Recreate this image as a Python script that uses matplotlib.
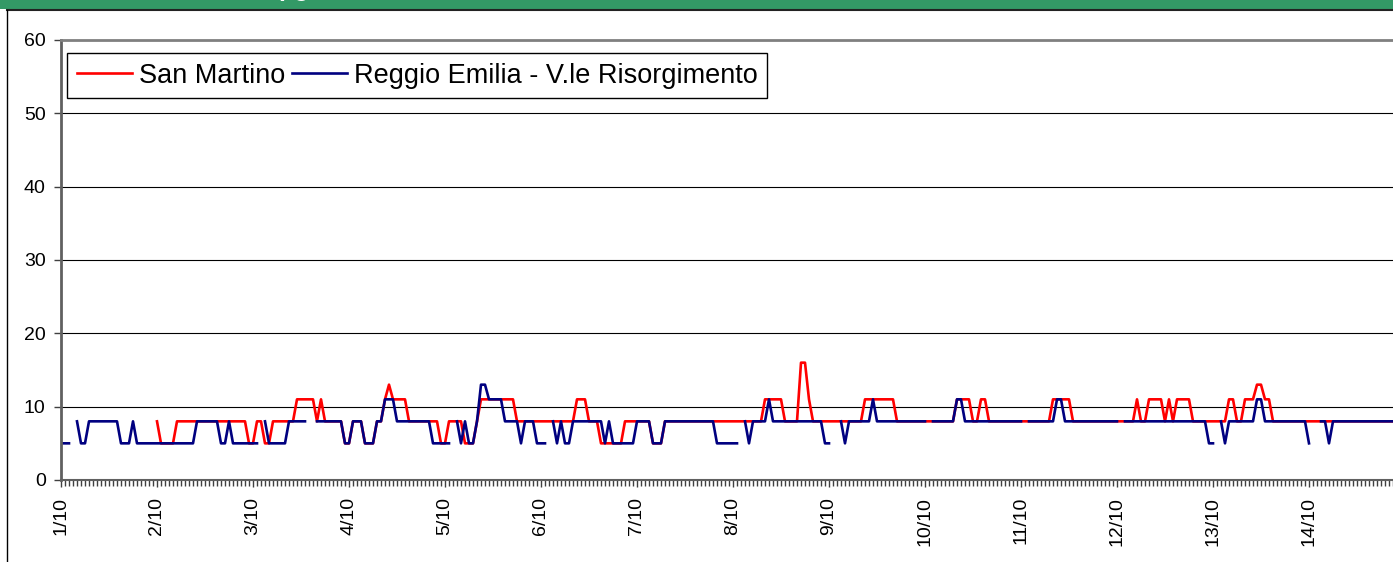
import numpy as np
import matplotlib
matplotlib.use("Agg")
import matplotlib.pyplot as plt
from matplotlib.ticker import MultipleLocator
from matplotlib.lines import Line2D
from matplotlib.patches import Rectangle

nan = np.nan

days = ["1/10", "2/10", "3/10", "4/10", "5/10", "6/10", "7/10",
        "8/10", "9/10", "10/10", "11/10", "12/10", "13/10", "14/10"]

# hourly values, one row per day (ug/m3)
san_martino = [
    nan, nan, nan, nan, nan, nan, nan, nan, nan, nan, nan, nan, nan, nan, nan, nan, nan, nan, nan, nan, nan, nan, nan, nan,
    8, 5, 5, 5, 5, 8, 8, 8, 8, 8, 8, 8, 8, 8, 8, 8, 8, 8, 8, 8, 8, 8, 8, 5,
    5, 8, 8, 5, 5, 8, 8, 8, 8, 8, 8, 11, 11, 11, 11, 11, 8, 11, 8, 8, 8, 8, 8, 5,
    5, 8, 8, 8, 5, 5, 5, 8, 8, 11, 13, 11, 11, 11, 11, 8, 8, 8, 8, 8, 8, 8, 8, 5,
    5, 8, 8, 8, 8, 5, 5, 5, 8, 11, 11, 11, 11, 11, 11, 11, 11, 11, 8, 8, 8, 8, 8, 8,
    8, 8, 8, 8, 8, 8, 8, 8, 8, 11, 11, 11, 8, 8, 8, 5, 5, 5, 5, 5, 5, 8, 8, 8,
    8, 8, 8, 8, 5, 5, 5, 8, 8, 8, 8, 8, 8, 8, 8, 8, 8, 8, 8, 8, 8, 8, 8, 8,
    8, 8, 8, 8, 8, 8, 8, 8, 11, 11, 11, 11, 11, 8, 8, 8, 8, 16, 16, 11, 8, 8, 8, 8,
    8, 8, 8, 8, 8, 8, 8, 8, 8, 11, 11, 11, 11, 11, 11, 11, 11, 8, 8, 8, 8, 8, 8, 8,
    8, 8, 8, 8, 8, 8, 8, 8, 11, 11, 11, 11, 8, 8, 11, 11, 8, 8, 8, 8, 8, 8, 8, 8,
    8, 8, 8, 8, 8, 8, 8, 8, 11, 11, 11, 11, 11, 8, 8, 8, 8, 8, 8, 8, 8, 8, 8, 8,
    8, 8, 8, 8, 8, 11, 8, 8, 11, 11, 11, 11, 8, 11, 8, 11, 11, 11, 11, 8, 8, 8, 8, 8,
    8, 8, 8, 8, 11, 11, 8, 8, 11, 11, 11, 13, 13, 11, 11, 8, 8, 8, 8, 8, 8, 8, 8, 8,
    8, 8, 8, 8, 8, 8, 8, 8, 8, 8, 8, 8, 8, 8, 8, 8, 8, 8, 8, 8, 8, 8, 8, 8,
]

reggio_emilia = [
    5, 5, 5, nan, 8, 5, 5, 8, 8, 8, 8, 8, 8, 8, 8, 5, 5, 5, 8, 5, 5, 5, 5, 5,
    5, 5, 5, 5, 5, 5, 5, 5, 5, 5, 8, 8, 8, 8, 8, 8, 5, 5, 8, 5, 5, 5, 5, 5,
    5, 5, nan, 8, 5, 5, 5, 5, 5, 8, 8, 8, 8, 8, nan, nan, 8, 8, 8, 8, 8, 8, 8, 5,
    5, 8, 8, 8, 5, 5, 5, 8, 8, 11, 11, 11, 8, 8, 8, 8, 8, 8, 8, 8, 8, 5, 5, 5,
    5, 5, nan, 8, 5, 8, 5, 5, 8, 13, 13, 11, 11, 11, 11, 8, 8, 8, 8, 5, 8, 8, 8, 5,
    5, 5, nan, 8, 5, 8, 5, 5, 8, 8, 8, 8, 8, 8, 8, 8, 5, 8, 5, 5, 5, 5, 5, 5,
    8, 8, 8, 8, 5, 5, 5, 8, 8, 8, 8, 8, 8, 8, 8, 8, 8, 8, 8, 8, 5, 5, 5, 5,
    5, 5, nan, 8, 5, 8, 8, 8, 8, 11, 8, 8, 8, 8, 8, 8, 8, 8, 8, 8, 8, 8, 8, 5,
    5, nan, nan, 8, 5, 8, 8, 8, 8, 8, 8, 11, 8, 8, 8, 8, 8, 8, 8, 8, 8, 8, 8, 8,
    8, nan, 8, 8, 8, 8, 8, 8, 11, 11, 8, 8, 8, 8, 8, 8, 8, 8, 8, 8, 8, 8, 8, 8,
    8, nan, 8, 8, 8, 8, 8, 8, 8, 11, 11, 8, 8, 8, 8, 8, 8, 8, 8, 8, 8, 8, 8, 8,
    8, nan, 8, 8, 8, 8, 8, 8, 8, 8, 8, 8, 8, 8, 8, 8, 8, 8, 8, 8, 8, 8, 8, 5,
    5, nan, 8, 5, 8, 8, 8, 8, 8, 8, 8, 11, 11, 8, 8, 8, 8, 8, 8, 8, 8, 8, 8, 8,
    5, nan, nan, 8, 8, 5, 8, 8, 8, 8, 8, 8, 8, 8, 8, 8, 8, 8, 8, 8, 8, 8, 8, 8,
]

plt.rcParams['font.family'] = ['Liberation Sans', 'DejaVu Sans']
plt.rcParams['mathtext.fontset'] = 'custom'
plt.rcParams['mathtext.rm'] = 'Liberation Sans'
plt.rcParams['mathtext.bf'] = 'Liberation Sans:bold'

W, H = 1393, 562
fig = plt.figure(figsize=(W / 100, H / 100), dpi=100)

# title band (cut off at the top of the picture) and chart frame
fig.patches.append(Rectangle((0, 1 - 9 / H), 1, 9 / H, transform=fig.transFigure,
                             facecolor='#339966', edgecolor='none', zorder=0))
fig.text(0.150, 1 + 3 / H, r"SO$_\mathbf{2}$ - $\mathbf{\mu}$g/m$^\mathbf{3}$", color='white',
         fontsize=18, fontweight='bold', ha='left', va='baseline')
fig.add_artist(Line2D([7 / W, 1], [1 - 10 / H, 1 - 10 / H], color='#222222', lw=1.5))
fig.add_artist(Line2D([7 / W, 7 / W], [0, 1 - 10 / H], color='black', lw=1.0))

ax = fig.add_axes([61 / W, 1 - 480 / H, 1344 / W, 440 / H])

hours = np.arange(len(san_martino))
ax.plot(hours, san_martino, color='#FF0000', lw=1.9, label='San Martino')
ax.plot(hours, reggio_emilia, color='#000080', lw=1.9, label='Reggio Emilia - V.le Risorgimento')

ax.set_xlim(0, 336)
ax.set_ylim(0, 60)
ax.set_yticks(range(0, 61, 10))
ax.yaxis.grid(True, color='black', lw=0.8)
ax.set_axisbelow(True)

ax.set_xticks(np.arange(0, 336, 24))
ax.set_xticklabels(days, rotation=90, fontsize=14)
ax.xaxis.set_minor_locator(MultipleLocator(1))
ax.tick_params(axis='x', which='major', length=5, width=1, color='#404040', pad=7)
ax.tick_params(axis='x', which='minor', length=4, width=1, color='#404040')
ax.tick_params(axis='y', length=5, width=1, color='#404040', labelsize=14, pad=6)

ax.spines['right'].set_visible(False)
ax.spines['top'].set_color('#808080')
ax.spines['top'].set_linewidth(2)
ax.spines['left'].set_color('#606060')
ax.spines['left'].set_linewidth(2)
ax.spines['bottom'].set_color('#606060')
ax.spines['bottom'].set_linewidth(1.5)

leg = ax.legend(loc='upper left', bbox_to_anchor=(0.0045, 0.97), ncol=2, fontsize=19.5,
                frameon=True, fancybox=False, edgecolor='black', framealpha=1,
                handlelength=2.05, handletextpad=0.25, columnspacing=0.25,
                borderpad=0.35, borderaxespad=0)
leg.get_frame().set_linewidth(1.0)

fig.savefig("out.png", dpi=100)
